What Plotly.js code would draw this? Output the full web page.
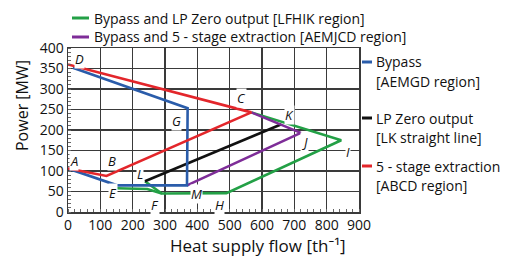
<!DOCTYPE html>
<html><head><meta charset="utf-8">
<script src="https://cdn.plot.ly/plotly-3.0.1.min.js"></script>
<style>html,body{margin:0;padding:0;background:#fff}#chart{width:505px;height:256px}</style>
</head><body><div id="chart"></div>
<script>
// Data
const redX = [0, 119, 567, 0];          // A B C D  (5-stage extraction)
const redY = [106, 88, 243, 360];
const blueX = [0, 152, 368, 370, 15];   // A E M G D (Bypass)
const blueY = [106, 65, 65, 253, 352];
const purpleX = [368, 720, 567];        // M J C
const purpleY = [65, 193, 243];
const blackX = [238, 660];              // L K
const blackY = [75, 214];
const greenX = [150, 245, 290, null, 238, 290, 490, 845, 567];  // E..F, L F H I (K) C
const greenY = [58, 56, 45, null, 75, 45, 46, 175, 243];
const pointNames = ['A','B','C','D','E','F','G','H','I','J','K','L','M'];
const pointX = [18, 136, 537, 37, 139, 269, 336, 469, 867, 731, 685, 222, 397];
const pointY = [125, 124, 277, 374, 46, 16, 223, 16, 146, 170, 236, 92, 43];
const xTicks = [0,100,200,300,400,500,600,700,800,900];
const yTicks = [0,50,100,150,200,250,300,350,400];
const topLegend = ['Bypass and LP Zero output [LFHIK region]', 'Bypass and 5 - stage extraction [AEMJCD region]'];
const sideLegend = [['Bypass','[AEMGD region]'], ['LP Zero output','[LK straight line]'], ['5 - stage extraction','[ABCD region]']];

const C = {red:'#e3262b', blue:'#2a5caa', purple:'#7e2d98', black:'#111111', green:'#23a046'};
const FONT = 'Open Sans, Noto Sans, sans-serif';

const traces = [
  {x: greenX, y: greenY, color: C.green},
  {x: blackX, y: blackY, color: C.black},
  {x: purpleX, y: purpleY, color: C.purple},
  {x: blueX, y: blueY, color: C.blue},
  {x: redX, y: redY, color: C.red}
].map(t => ({x: t.x, y: t.y, type: 'scatter', mode: 'lines', line: {color: t.color, width: 2.6}, showlegend: false, hoverinfo: 'skip'}));

const annotations = pointNames.map((n, i) => ({
  x: pointX[i], y: pointY[i], xref: 'x', yref: 'y', text: n, showarrow: false,
  font: {family: FONT, size: 13, color: '#111', style: 'italic'}, bgcolor: '#ffffff', borderpad: 0
}));
const shapes = [];
// top legend
const topCols = [C.green, C.purple];
topLegend.forEach((t, i) => {
  const yPix = 18 + i * 19;
  const yp = (256 - 44 - yPix) / 164;
  shapes.push({type: 'line', xref: 'paper', yref: 'paper', x0: (72 - 68) / 291, x1: (89 - 68) / 291, y0: yp, y1: yp, line: {color: topCols[i], width: 3}});
  annotations.push({xref: 'paper', yref: 'paper', x: (92 - 68) / 291, y: yp, xanchor: 'left', yanchor: 'middle', text: t, showarrow: false, font: {family: FONT, size: 14, color: '#111'}});
});
// side legend
const sideCols = [C.blue, C.black, C.red];
const sideY = [62, 118, 166];
sideLegend.forEach((pair, i) => {
  const y1 = (212 - sideY[i]) / 164, y2 = (212 - sideY[i] - 19) / 164;
  shapes.push({type: 'line', xref: 'paper', yref: 'paper', x0: (362 - 68) / 291, x1: (372 - 68) / 291, y0: y1, y1: y1, line: {color: sideCols[i], width: 3}});
  annotations.push({xref: 'paper', yref: 'paper', x: (374 - 68) / 291, y: y1, xanchor: 'left', yanchor: 'middle', text: pair[0], showarrow: false, font: {family: FONT, size: 14, color: '#111'}});
  annotations.push({xref: 'paper', yref: 'paper', x: (374 - 68) / 291, y: y2, xanchor: 'left', yanchor: 'middle', text: pair[1], showarrow: false, font: {family: FONT, size: 14, color: '#111'}});
});
// axis titles placed as in the reference (off-centre)
annotations.push({xref: 'paper', yref: 'paper', x: (258 - 68) / 291, y: (212 - 245) / 164, xanchor: 'center', yanchor: 'middle',
  text: 'Heat supply flow [th⁻¹]', showarrow: false, font: {family: FONT, size: 17, color: '#111'}});
annotations.push({xref: 'paper', yref: 'paper', x: (22 - 68) / 291, y: (212 - 106) / 164, xanchor: 'center', yanchor: 'middle', textangle: -90,
  text: 'Power [MW]', showarrow: false, font: {family: FONT, size: 16, color: '#111'}});

const axisCommon = {
  showgrid: true, gridcolor: '#3a3a3a', gridwidth: 1.5, zeroline: false,
  showline: true, linecolor: '#3a3a3a', linewidth: 1.5, mirror: true,
  ticks: '', tickfont: {family: FONT, size: 14, color: '#111'}, fixedrange: true
};
const layout = {
  width: 505, height: 256,
  margin: {l: 68, r: 146, t: 48, b: 44},
  paper_bgcolor: '#fff', plot_bgcolor: '#fff',
  xaxis: Object.assign({}, axisCommon, {range: [0, 900], tickvals: xTicks, ticktext: xTicks.map(String),
    minor: {ticks: 'inside', ticklen: 3, tickcolor: '#666', dtick: 20, showgrid: false}}),
  yaxis: Object.assign({}, axisCommon, {range: [0, 400], tickvals: yTicks, ticktext: yTicks.map(String),
    minor: {ticks: 'inside', ticklen: 3, tickcolor: '#666', dtick: 10, showgrid: false}}),
  annotations: annotations, shapes: shapes
};
Plotly.newPlot('chart', traces, layout, {staticPlot: true, displayModeBar: false});
</script></body></html>
